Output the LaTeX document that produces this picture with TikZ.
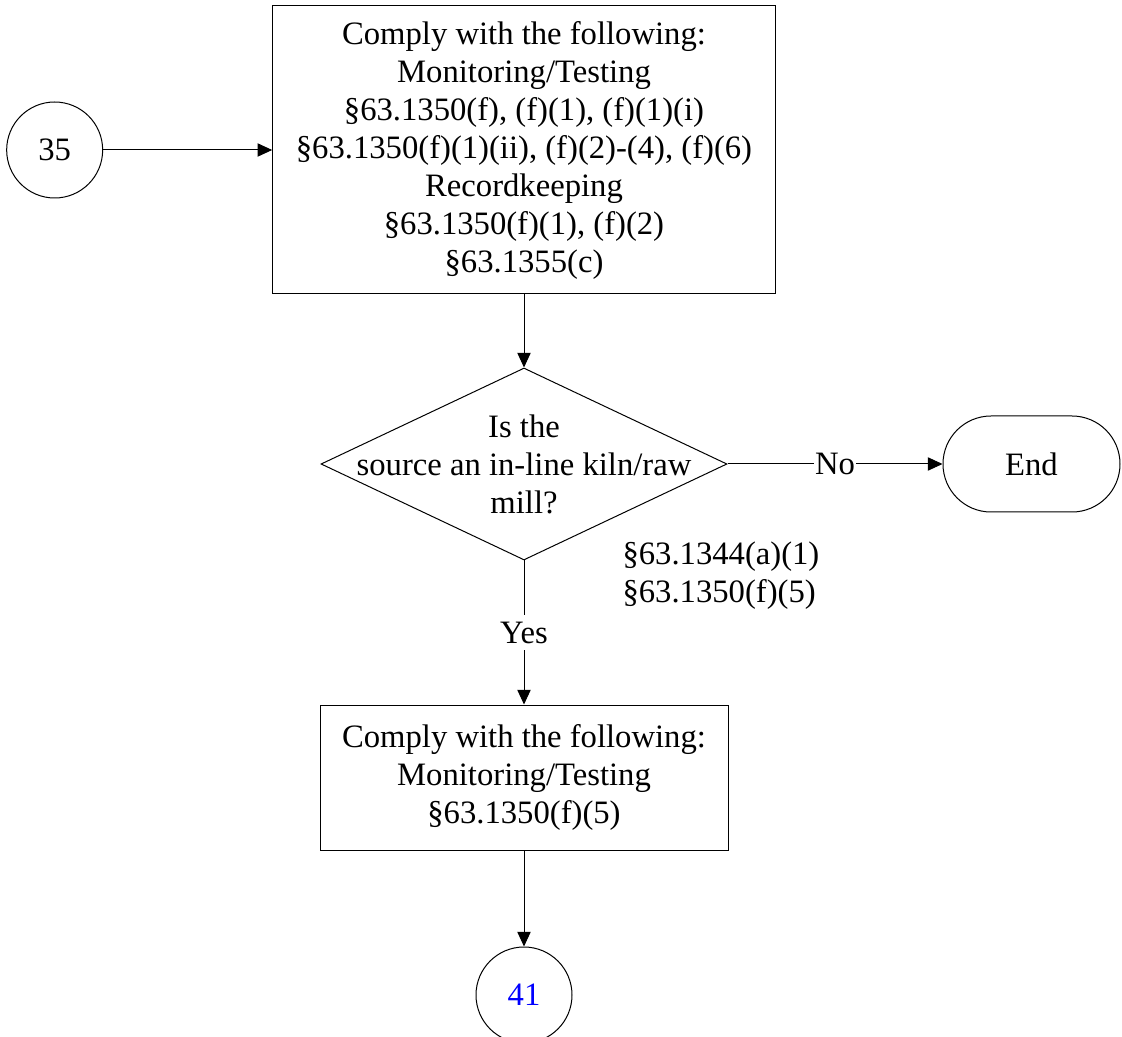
\documentclass[tikz,border=0pt]{standalone}
\usepackage{fontspec}
\setmainfont{Liberation Serif}
\usepackage{tikz}
\usetikzlibrary{shapes.geometric, shapes.misc, arrows.meta, positioning}
\definecolor{linkblue}{HTML}{0000FF}

\begin{document}
\begin{tikzpicture}[x=0.75pt, y=-0.75pt, >={Triangle[length=11pt, width=10pt]}, line width=0.75pt,
    every node/.style={font=\fontsize{24.5}{28.5}\selectfont}]
    \useasboundingbox (0,0) rectangle (1122,1037);
    % Nodes
    \node [draw, rectangle, align=center, minimum width=377pt, minimum height=216pt, inner sep=0pt] (comply) at (524,150) {Comply with the following:\\ Monitoring/Testing\\ \S63.1350(f), (f)(1), (f)(1)(i)\\ \S63.1350(f)(1)(ii), (f)(2)-(4), (f)(6)\\ Recordkeeping\\ \S63.1350(f)(1), (f)(2)\\ \S63.1355(c)};

    \node [draw, circle, minimum size=72pt, inner sep=0pt, left=126.75pt of comply] (c35) {35};

    \node [draw, diamond, minimum width=304.5pt, minimum height=144pt, inner sep=0pt, below=54.75pt of comply, label={[align=center]center:Is the\\ source an in-line kiln/raw\\ mill?}] (kiln) {};

    \node [draw, rounded rectangle, minimum width=132.75pt, minimum height=72pt, inner sep=0pt, right=161.25pt of kiln] (finish) {End};

    \node [align=left, anchor=west, inner sep=0pt] (refs) at (622,576) {\S63.1344(a)(1)\\ \S63.1350(f)(5)};

    \node [draw, rectangle, align=center, minimum width=306pt, minimum height=108.75pt, inner sep=0pt, below=108pt of kiln] (testing) {Comply with the following:\\ Monitoring/Testing\\ \S63.1350(f)(5)};

    \node [draw, circle, minimum size=72pt, inner sep=0pt, text=linkblue, below=72pt of testing] (c41) {41};

    % Paths
    \draw[->] (c35) -- (comply);
    \draw[->] (comply) -- (kiln);
    \draw[->] (kiln) -- node[fill=white, inner sep=0.5pt] {No} (finish);
    \draw[->] (kiln) -- node[fill=white, inner xsep=1pt, inner ysep=5pt] {Yes} (testing);
    \draw[->] (testing) -- (c41);
\end{tikzpicture}
\end{document}
